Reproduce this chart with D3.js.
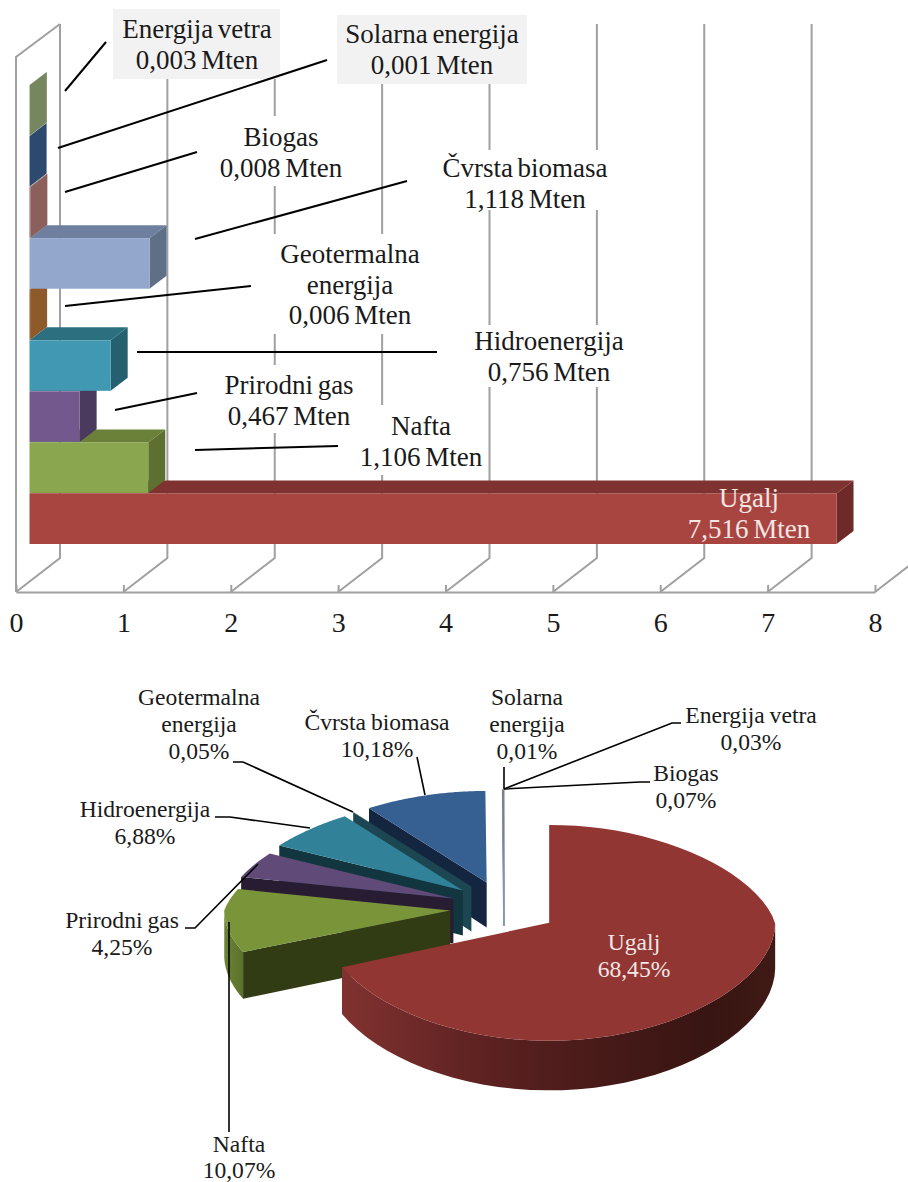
<!DOCTYPE html>
<html><head><meta charset="utf-8">
<script src="https://cdn.jsdelivr.net/npm/d3@7"></script>
<style>html,body{margin:0;padding:0;background:#fff}svg{display:block}text{font-family:"Liberation Serif",serif;fill:#1a1a1a}</style>
</head><body><svg id="c" width="908" height="1182"></svg>
<script>
// ---- data ----
const barCategories = ["Energija vetra","Solarna energija","Biogas","Čvrsta biomasa","Geotermalna energija","Hidroenergija","Prirodni gas","Nafta","Ugalj"];
const barValues = [0.003,0.001,0.008,1.118,0.006,0.756,0.467,1.106,7.516];
const axisTicks = [0,1,2,3,4,5,6,7,8];
const pieCategories = ["Ugalj","Nafta","Prirodni gas","Hidroenergija","Geotermalna energija","Čvrsta biomasa","Biogas","Energija vetra","Solarna energija"];
const pieValues = [68.45,10.07,4.25,6.88,0.05,10.18,0.07,0.03,0.01];

// ---- styles ----
const barFront = ["#76865e","#2d4a6e","#8a5f5c","#93a6cc","#8e5a2a","#4098b2","#73588e","#8aa64e","#a94540"];
const barTop   = ["#76865e","#2d4a6e","#8a5f5c","#6f7f9f","#8e5a2a","#2c7080","#5d4775","#6b8038","#7f3331"];
const barSide  = ["#76865e","#2d4a6e","#8a5f5c","#5f6f88","#8e5a2a","#256070","#4a3a5e","#5d7030","#6d2a28"];
const pieTop   = ["#923634","#7a9439","#5f4a78","#318299","#1b4652","#365f92","#8a5f5c","#76865e","#9fb0cc"];
const pieWall  = ["#3a1512","#323c14","#281c32","#12363f","#1b4652","#14263f","#8496ae","#8496ae","#8496ae"];

// ---- label layout: [lines, centre x, first baseline, box] ----
const barLabels = [
 [["Energija vetra","0,003 Mten"],197,38,[113,9,167,70],"#f2f2f2"],
 [["Solarna energija","0,001 Mten"],432,43,[337,15,190,69],"#f2f2f2"],
 [["Biogas","0,008 Mten"],281,146,[212,116,140,70],"#fff"],
 [["Čvrsta biomasa","1,118 Mten"],525,177,[434,150,184,60],"#fff"],
 [["Geotermalna","energija","0,006 Mten"],350,263,[270,234,160,100],"#fff"],
 [["Hidroenergija","0,756 Mten"],549,350,[465,325,168,62],"#fff"],
 [["Prirodni gas","0,467 Mten"],289,394,[218,365,142,68],"#fff"],
 [["Nafta","1,106 Mten"],421,435,[355,405,129,70],"#fff"]
];
const barLeaders = [[[65,91],[106,42]],[[58,148],[327,60]],[[65,192],[197,152]],[[195,239],[407,181]],[[65,306],[251,286]],[[137,352],[437,352]],[[115,410],[197,393]],[[195,450],[338,446]]];
const pieLabels = [
 [["Geotermalna","energija","0,05%"],199,705,27],
 [["Čvrsta biomasa","10,18%"],377,730,27],
 [["Solarna","energija","0,01%"],527,705,27],
 [["Energija vetra","0,03%"],751,723,27],
 [["Biogas","0,07%"],686,781,27],
 [["Hidroenergija","6,88%"],145,817,27],
 [["Prirodni gas","4,25%"],122,928,27],
 [["Nafta","10,07%"],239,1152,26]
];
const pieLeaders = [[[233,762],[243,762],[353,812]],[[417,757],[425,795]],[[504,767],[504,789]],[[504,789],[672,723],[681,723]],[[504,789],[640,782],[650,782]],[[215,817],[230,817],[310,828]],[[185,928],[195,928],[258,864]],[[229,922],[229,1132]]];

const svg = d3.select("#c");
const lineGen = d3.line();
const poly = pts => lineGen(pts) + "Z";

// ===== top chart =====
const AX = 592, wallDX = 44, wallDY = 34, wallTop = 24, GRID = "#a0a0a0";
const x = d3.scaleLinear().domain([0,8]).range([16,875]);
const y = d3.scaleBand().domain(barCategories).range([85,544]).paddingInner(0.01);
const grid = svg.append("g").attr("fill","none").attr("stroke",GRID).attr("stroke-width",2);
axisTicks.forEach(k=>{
  grid.append("path").attr("d",lineGen([[x(k),AX],[x(k)+wallDX,AX-wallDY],[x(k)+wallDX,wallTop]]));
});
grid.append("path").attr("d",lineGen([[x(0),AX],[x(0),wallTop+33],[x(0)+wallDX,wallTop]]));
const axis = d3.axisBottom(x).tickValues(axisTicks).tickFormat(d3.format("d")).tickSizeOuter(0).tickSizeInner(-7).tickPadding(20);
const ag = svg.append("g").attr("transform",`translate(0,${AX})`).call(axis);
ag.selectAll("path,line").attr("stroke",GRID).attr("stroke-width",2);
ag.selectAll("text").attr("font-size",28).attr("font-family","Liberation Serif").attr("fill","#1a1a1a");

const bx = v => x(v) + 13.5, bdx = 17, bdy = 13;
const bars = svg.append("g");
// top faces and sides from the bottom row upward, then all front faces over them
d3.range(barCategories.length).reverse().forEach(i=>{
  const c=barCategories[i], x0=bx(0), x1=bx(barValues[i]), t=y(c), b=t+y.bandwidth();
  bars.append("path").attr("fill",barTop[i]).attr("d",poly([[x0,t],[x0+bdx,t-bdy],[x1+bdx,t-bdy],[x1,t]]));
  bars.append("path").attr("fill",barSide[i]).attr("d",poly([[x1,t],[x1+bdx,t-bdy],[x1+bdx,b-bdy],[x1,b]]));
});
barCategories.forEach((c,i)=>{
  const x0=bx(0), x1=bx(barValues[i]), t=y(c), b=t+y.bandwidth();
  bars.append("rect").attr("x",x0).attr("y",t).attr("width",x1-x0).attr("height",b-t).attr("fill",barFront[i]);
});
function textBlock(g,lines,cx,by,size,lh,ws,fill){
  lines.forEach((l,i)=>g.append("text").attr("x",cx).attr("y",by+i*lh).attr("text-anchor","middle").attr("font-size",size).attr("word-spacing",ws).style("fill",fill||"#1a1a1a").text(l));
}
const lab = svg.append("g");
barLabels.forEach(([l,cx,by,b,f])=>lab.append("rect").attr("x",b[0]).attr("y",b[1]).attr("width",b[2]).attr("height",b[3]).attr("fill",f));
const lead = svg.append("g").attr("fill","none").attr("stroke","#000").attr("stroke-width",2);
barLeaders.forEach(p=>lead.append("path").attr("d",lineGen(p)));
barLabels.forEach(([l,cx,by])=>textBlock(lab,l,cx,by,27,30.5,-2));
textBlock(lab,["Ugalj","7,516 Mten"],749,507,27,30.5,-2,"#f3e6e4");

// ===== bottom chart =====
const CX=504, CY=908, EXPL=54, KEX=0.5, RX=226, RY=100, UGALJ_RY=1.07, PERSP=0.093, PERSPX=0.17, DEPTH=45;
const arcs = d3.pie().sort(null).startAngle(0).endAngle(2*Math.PI)(pieValues);
const defs = svg.append("defs");
function grad(id,stops){
  const g=defs.append("linearGradient").attr("id",id).attr("x1",0).attr("x2",1).attr("y1",0).attr("y2",0);
  stops.forEach(([o,c])=>g.append("stop").attr("offset",o).attr("stop-color",c));
}
grad("rimRed",[[0,"#813230"],[0.3,"#5f2322"],[0.6,"#471a18"],[0.85,"#381512"],[1,"#3f1a15"]]);
grad("rimOlive",[[0,"#6c8434"],[1,"#5c702c"]]);
const rimFill = ["url(#rimRed)","url(#rimOlive)"];
const pieG = svg.append("g");
[8,7,6,5,4,3,2,1,0].forEach(i=>{
  const a=arcs[i], mid=(a.startAngle+a.endAngle)/2;
  const ox=CX+EXPL*Math.sin(mid), oy=CY-EXPL*KEX*Math.cos(mid);
  const ry=i===0?RY*UGALJ_RY:RY;
  const P=ang=>{const u=Math.sin(ang), v=-Math.cos(ang), s=1/(1-PERSP*v), sx=1+PERSPX*Math.min(v,0);return [ox+RX*u*sx, oy+ry*v*s, s];};
  const angs=d3.range(0,61).map(t=>a.startAngle+(a.endAngle-a.startAngle)*t/60);
  const apex=[ox,oy];
  if(i>0){
    const e=P(a.startAngle);
    const w=pieG.append("path").attr("fill",pieWall[i]).attr("d",poly([apex,[e[0],e[1]],[e[0],e[1]+DEPTH*e[2]],[apex[0],apex[1]+DEPTH]]));
    if(i>=6) w.attr("stroke",pieWall[i]).attr("stroke-width",1);
  }
  const front=angs.filter(t=>Math.cos(t)<0);
  if(front.length>1 && i<2){
    const top=front.map(t=>P(t)), bot=front.map(t=>{const p=P(t);return [p[0],p[1]+DEPTH*p[2]];}).reverse();
    pieG.append("path").attr("fill",rimFill[i]).attr("d",poly(top.map(p=>[p[0],p[1]]).concat(bot)));
  }
  pieG.append("path").attr("fill",pieTop[i]).attr("d",poly([apex].concat(angs.map(t=>{const p=P(t);return [p[0],p[1]];}))));
});
const lead2 = svg.append("g").attr("fill","none").attr("stroke","#000").attr("stroke-width",1.6);
pieLeaders.forEach(p=>lead2.append("path").attr("d",lineGen(p)));
const lab2 = svg.append("g");
pieLabels.forEach(([l,cx,by,lh])=>textBlock(lab2,l,cx,by,23.6,lh,-1));
textBlock(lab2,["Ugalj","68,45%"],634,950,23.6,27,-1,"#f3e6e4");
</script></body></html>
